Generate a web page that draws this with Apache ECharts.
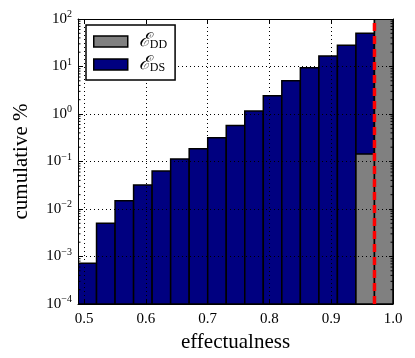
<!DOCTYPE html>
<html>
<head>
<meta charset="utf-8">
<script src="https://cdn.jsdelivr.net/npm/echarts@6/dist/echarts.min.js"></script>
<style>
html, body { margin: 0; padding: 0; background: #fff; }
#chart { width: 415px; height: 358px; }
</style>
</head>
<body>
<div id="chart"></div>
<script>
// histogram bins (left edge, right edge) and cumulative percentages
var binLeft  = [0.49, 0.52, 0.55, 0.58, 0.61, 0.64, 0.67, 0.70, 0.73, 0.76, 0.79, 0.82, 0.85, 0.88, 0.91, 0.94, 0.97];
var binRight = [0.52, 0.55, 0.58, 0.61, 0.64, 0.67, 0.70, 0.73, 0.76, 0.79, 0.82, 0.85, 0.88, 0.91, 0.94, 0.97, 1.00];
var dsValues = [7.2e-4, 5.0e-3, 1.5e-2, 3.2e-2, 6.3e-2, 0.113, 0.186, 0.316, 0.57, 1.16, 2.43, 5.0, 9.4, 16.7, 28, 50, 100];
var ddValues = [null, null, null, null, null, null, null, null, null, null, null, null, null, null, null, 0.144, 100];
var xTicks = [0.5, 0.6, 0.7, 0.8, 0.9, 1.0];
var minorTicks = [2e-4, 3e-4, 4e-4, 5e-4, 6e-4, 7e-4, 8e-4, 9e-4,
	2e-3, 3e-3, 4e-3, 5e-3, 6e-3, 7e-3, 8e-3, 9e-3,
	2e-2, 3e-2, 4e-2, 5e-2, 6e-2, 7e-2, 8e-2, 9e-2,
	0.2, 0.3, 0.4, 0.5, 0.6, 0.7, 0.8, 0.9,
	2, 3, 4, 5, 6, 7, 8, 9,
	20, 30, 40, 50, 60, 70, 80, 90];
var threshold = 0.97;

var xMin = 0.49, xMax = 1.0, yMin = 1e-4, yMax = 100;
var serif = "'Liberation Serif', 'DejaVu Serif', serif";

function bars(values) {
	var out = [];
	for (var i = 0; i < values.length; i++) {
		if (values[i] != null) out.push([binLeft[i], binRight[i], values[i]]);
	}
	return out;
}

function renderBar(params, api) {
	var p0 = api.coord([api.value(0), api.value(2)]);
	var p1 = api.coord([api.value(1), yMin]);
	return {
		type: 'rect',
		shape: { x: p0[0], y: p0[1], width: p1[0] - p0[0], height: p1[1] - p0[1] },
		style: { fill: api.visual('color'), stroke: '#000', lineWidth: 1.5 }
	};
}

function renderMinor(params, api) {
	var v = api.value(0);
	var l = api.coord([xMin, v]);
	var r = api.coord([xMax, v]);
	return {
		type: 'group',
		children: [
			{ type: 'line', shape: { x1: l[0], y1: l[1], x2: l[0] + 2.5, y2: l[1] }, style: { stroke: '#000', lineWidth: 1 } },
			{ type: 'line', shape: { x1: r[0], y1: r[1], x2: r[0] - 2.5, y2: r[1] }, style: { stroke: '#000', lineWidth: 1 } }
		]
	};
}

var supRich = {
	b: { fontSize: 15, fontFamily: serif, color: '#000' },
	s: { fontSize: 10, fontFamily: serif, color: '#000', padding: [0, 0, 9, 0] }
};

var chart = echarts.init(document.getElementById('chart'));
var option = {
	animation: false,
	grid: { left: 78, right: 22, top: 19, bottom: 54 },
	legend: {
		orient: 'vertical',
		left: 86,
		top: 25,
		padding: [7, 8, 6, 7],
		itemWidth: 34,
		itemHeight: 11,
		itemGap: 4,
		borderColor: '#000',
		borderWidth: 1.5,
		borderRadius: 0,
		backgroundColor: '#fff',
		data: [
			{ name: 'DD', icon: 'rect', itemStyle: { color: '#808080', borderColor: '#000', borderWidth: 1.5 } },
			{ name: 'DS', icon: 'rect', itemStyle: { color: '#000080', borderColor: '#000', borderWidth: 1.5 } }
		],
		formatter: function(name) { return '{e|\u2130}{s|' + name + '}'; },
		textStyle: {
			rich: {
				e: { fontSize: 19, fontFamily: "'DejaVu Serif', serif", fontStyle: 'italic', color: '#000', padding: [0, 0, 0, 6] },
				s: { fontSize: 12, fontFamily: serif, color: '#000', padding: [6, 0, 0, 0] }
			}
		}
	},
	xAxis: [{
		type: 'value',
		min: xMin,
		max: xMax,
		name: 'effectualness',
		nameLocation: 'middle',
		nameGap: 25,
		nameTextStyle: { fontSize: 21, fontFamily: serif, color: '#000' },
		axisLine: { show: true, lineStyle: { color: '#000', width: 1 } },
		axisTick: { inside: true, length: 4, customValues: xTicks, lineStyle: { color: '#000' } },
		axisLabel: { customValues: xTicks, margin: 8, fontSize: 15, fontFamily: serif, color: '#000',
			formatter: function(v) { return v.toFixed(1); } },
		splitLine: { show: true, lineStyle: { color: '#000', type: [1, 3], width: 1 } }
	}, {
		type: 'value',
		position: 'top',
		min: xMin,
		max: xMax,
		axisLine: { show: true, lineStyle: { color: '#000', width: 1 } },
		axisTick: { inside: true, length: 4, customValues: xTicks, lineStyle: { color: '#000' } },
		axisLabel: { show: false },
		splitLine: { show: false }
	}],
	yAxis: [{
		type: 'log',
		logBase: 10,
		min: yMin,
		max: yMax,
		interval: 1,
		name: 'cumulative %',
		nameLocation: 'middle',
		nameGap: 46,
		nameRotate: 90,
		nameTextStyle: { fontSize: 21, fontFamily: serif, color: '#000' },
		axisLine: { show: true, lineStyle: { color: '#000', width: 1 } },
		axisTick: { inside: true, length: 4, lineStyle: { color: '#000' } },
		axisLabel: {
			margin: 6,
			formatter: function(v) {
				var e = Math.round(Math.log(v) / Math.LN10);
				return '{b|10}{s|' + (e < 0 ? '\u2212' + (-e) : e) + '}';
			},
			rich: supRich
		},
		splitLine: { show: true, lineStyle: { color: '#000', type: [1, 3], width: 1 } }
	}, {
		type: 'log',
		logBase: 10,
		position: 'right',
		min: yMin,
		max: yMax,
		interval: 1,
		axisLine: { show: true, lineStyle: { color: '#000', width: 1 } },
		axisTick: { inside: true, length: 4, lineStyle: { color: '#000' } },
		axisLabel: { show: false },
		splitLine: { show: false }
	}],
	series: [{
		name: 'DS',
		type: 'custom',
		z: -1,
		clip: true,
		itemStyle: { color: '#000080' },
		encode: { x: [0, 1], y: 2 },
		renderItem: renderBar,
		data: bars(dsValues)
	}, {
		name: 'DD',
		type: 'custom',
		z: -1,
		clip: true,
		itemStyle: { color: '#808080' },
		encode: { x: [0, 1], y: 2 },
		renderItem: renderBar,
		data: bars(ddValues)
	}, {
		name: 'minor',
		type: 'custom',
		silent: true,
		encode: { y: 0 },
		renderItem: renderMinor,
		data: minorTicks.map(function(v) { return [v]; })
	}, {
		name: 'threshold',
		type: 'line',
		symbol: 'none',
		z: 5,
		lineStyle: { color: '#ff0000', width: 3.5, type: [8, 5] },
		data: [[threshold, yMin], [threshold, yMax]]
	}]
};
chart.setOption(option);
</script>
</body>
</html>
